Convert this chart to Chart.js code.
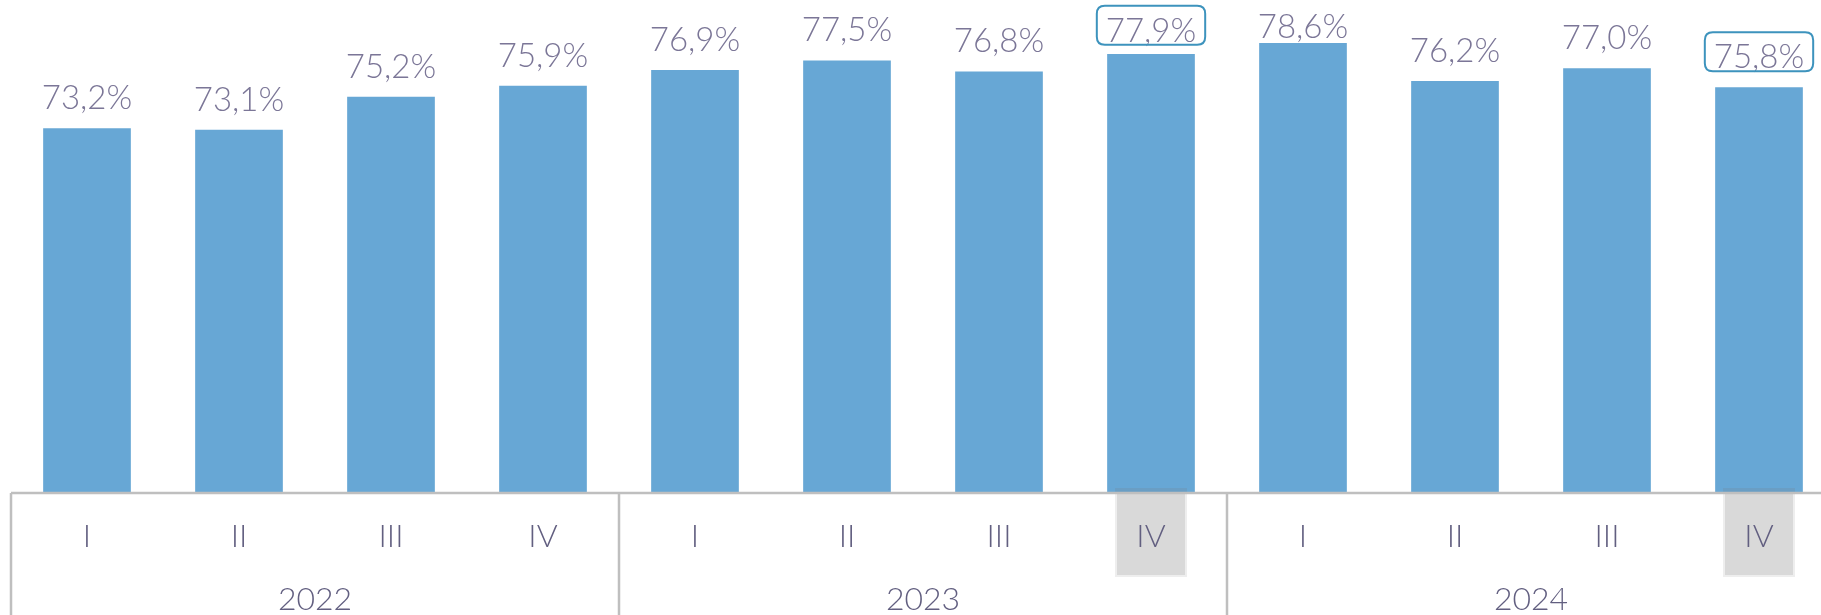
<!DOCTYPE html>
<html>
<head>
  <meta charset="utf-8">
  <title>Quarterly share</title>
  <style>
    html, body {
      margin: 0;
      padding: 0;
      background: #ffffff;
      overflow: hidden;
    }
    .chart-container {
      position: relative;
      width: 1840px;
      height: 615px;
    }
  </style>
  <script src="https://cdn.jsdelivr.net/npm/chart.js"></script>
</head>
<body>
  <div class="chart-container">
    <canvas id="chartCanvas"></canvas>
  </div>

  <script>
    // Data.
    var quarters = ['I', 'II', 'III', 'IV', 'I', 'II', 'III', 'IV', 'I', 'II', 'III', 'IV'];
    var years = ['2022', '2023', '2024'];
    var values = [73.2, 73.1, 75.2, 75.9, 76.9, 77.5, 76.8, 77.9, 78.6, 76.2, 77.0, 75.8];
    // Quarters marked with a grey tick box and a framed value label.
    var highlighted = [7, 11];

    var barColor = '#67a7d5';
    var valueColor = '#7b7697';
    var axisTextColor = '#625f80';
    var lineColor = '#bfbfbf';
    var boxColor = '#3d93bd';
    var fontFamily = 'Lato, "Open Sans", sans-serif';

    function formatValue(v) {
      return v.toFixed(1).replace('.', ',') + '%';
    }

    function roundRect(ctx, x, y, w, h, r) {
      ctx.beginPath();
      ctx.moveTo(x + r, y);
      ctx.lineTo(x + w - r, y);
      ctx.quadraticCurveTo(x + w, y, x + w, y + r);
      ctx.lineTo(x + w, y + h - r);
      ctx.quadraticCurveTo(x + w, y + h, x + w - r, y + h);
      ctx.lineTo(x + r, y + h);
      ctx.quadraticCurveTo(x, y + h, x, y + h - r);
      ctx.lineTo(x, y + r);
      ctx.quadraticCurveTo(x, y, x + r, y);
      ctx.closePath();
    }

    // Draws the grouped category axis and the value labels.
    var decorPlugin = {
      id: 'decor',
      afterDatasetsDraw: function(chart) {
        var ctx = chart.ctx;
        var xs = chart.scales.x;
        var area = chart.chartArea;
        var step = xs.getPixelForValue(1) - xs.getPixelForValue(0);
        var bottom = chart.height;
        ctx.save();

        // grey boxes behind highlighted quarter labels
        highlighted.forEach(function(i) {
          var cx = xs.getPixelForValue(i);
          ctx.fillStyle = 'rgba(120,120,120,0.18)';
          ctx.fillRect(cx - 36, area.bottom - 5, 72, 5);
          ctx.fillStyle = '#eeeeee';
          ctx.fillRect(cx - 36, area.bottom, 72, 84);
          ctx.fillStyle = '#d9d9d9';
          ctx.fillRect(cx - 34, area.bottom, 68, 82);
        });

        // axis line and group separators
        ctx.strokeStyle = lineColor;
        ctx.lineWidth = 2.5;
        ctx.beginPath();
        ctx.moveTo(area.left, area.bottom);
        ctx.lineTo(area.right, area.bottom);
        for (var g = 0; g <= years.length; g++) {
          var sx = xs.getPixelForValue(g * 4) - step / 2;
          ctx.moveTo(sx, area.bottom);
          ctx.lineTo(sx, bottom);
        }
        ctx.stroke();

        // quarter labels
        ctx.fillStyle = axisTextColor;
        ctx.textAlign = 'center';
        ctx.textBaseline = 'alphabetic';
        ctx.font = '300 32px ' + fontFamily;
        quarters.forEach(function(q, i) {
          ctx.fillText(q, xs.getPixelForValue(i), area.bottom + 54);
        });

        // year labels
        years.forEach(function(y, g) {
          var cx = (xs.getPixelForValue(g * 4) + xs.getPixelForValue(g * 4 + 3)) / 2;
          ctx.fillText(y, cx, area.bottom + 117);
        });

        // value labels
        var meta = chart.getDatasetMeta(0);
        ctx.font = '300 33px ' + fontFamily;
        values.forEach(function(v, i) {
          var bar = meta.data[i];
          var boxed = highlighted.indexOf(i) >= 0;
          var base = bar.y - 18;
          var minBase = boxed ? 41.7 : 38.3;
          if (base < minBase) base = minBase;
          var text = formatValue(v);
          ctx.fillStyle = valueColor;
          ctx.fillText(text, bar.x, base);
          if (boxed) {
            var w = ctx.measureText(text).width + 18;
            ctx.strokeStyle = boxColor;
            ctx.lineWidth = 2;
            roundRect(ctx, bar.x - w / 2, base - 36, w, 39, 8);
            ctx.stroke();
          }
        });

        ctx.restore();
      }
    };

    var ctx = document.getElementById('chartCanvas').getContext('2d');
    var chart = new Chart(ctx, {
      type: 'bar',
      data: {
        labels: quarters,
        datasets: [{
          data: values,
          backgroundColor: barColor,
          borderColor: 'rgba(255,255,255,0.35)',
          borderWidth: 1,
          barPercentage: 0.59,
          categoryPercentage: 1.0
        }]
      },
      options: {
        responsive: true,
        maintainAspectRatio: false,
        animation: false,
        layout: {
          padding: { left: 11, right: 5, top: 20, bottom: 122 }
        },
        plugins: {
          legend: { display: false },
          tooltip: { enabled: false }
        },
        scales: {
          x: { display: false },
          y: { display: false, min: 50, max: 80 }
        }
      },
      plugins: [decorPlugin]
    });
  </script>
</body>
</html>
